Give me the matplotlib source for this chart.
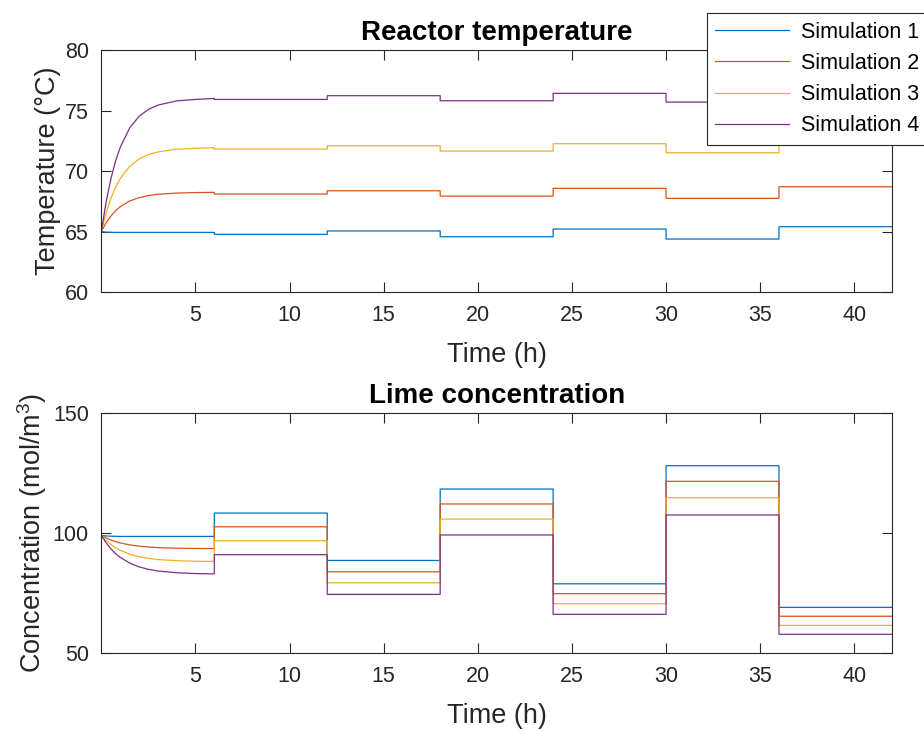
import numpy as np
import matplotlib
matplotlib.use("Agg")
import matplotlib.pyplot as plt

plt.rcParams['font.family'] = ['Liberation Sans', 'DejaVu Sans']
plt.rcParams['mathtext.default'] = 'regular'

# MATLAB default line colours
colors = ['#0072BD', '#D95319', '#EDB120', '#7E2F8E']
labels = ['Simulation 1', 'Simulation 2', 'Simulation 3', 'Simulation 4']

# start-up transient, first 6 hours
rise_t = [0, 0.25, 0.5, 0.75, 1, 1.5, 2, 2.5, 3, 4, 5, 6]
temp_rise = [
    [65.0, 64.95, 64.94, 64.93, 64.93, 64.93, 64.93, 64.93, 64.93, 64.93, 64.93, 64.93],
    [65.0, 65.72, 66.27, 66.71, 67.05, 67.52, 67.80, 67.97, 68.08, 68.18, 68.22, 68.24],
    [65.0, 66.53, 67.72, 68.66, 69.38, 70.38, 70.99, 71.36, 71.58, 71.81, 71.88, 71.93],
    [65.0, 67.43, 69.32, 70.81, 71.95, 73.55, 74.52, 75.10, 75.45, 75.80, 75.92, 76.00],
]
lime_rise = [
    [99.0, 98.8, 98.7, 98.65, 98.6, 98.6, 98.6, 98.6, 98.6, 98.6, 98.6, 98.6],
    [99.0, 97.97, 97.12, 96.44, 95.89, 95.08, 94.54, 94.19, 93.95, 93.70, 93.59, 93.54],
    [99.0, 96.95, 95.28, 93.93, 92.84, 91.23, 90.16, 89.46, 88.99, 88.49, 88.27, 88.18],
    [99.0, 95.97, 93.51, 91.51, 89.90, 87.52, 85.94, 84.91, 84.22, 83.48, 83.16, 83.01],
]

# piecewise constant levels after each 6 h step
step_t = [6, 12, 18, 24, 30, 36, 42]
temp_levels = [
    [64.77, 65.05, 64.57, 65.21, 64.38, 65.40],
    [68.10, 68.37, 67.93, 68.57, 67.74, 68.70],
    [71.82, 72.09, 71.65, 72.26, 71.51, 72.45],
    [75.92, 76.23, 75.81, 76.42, 75.70, 76.65],
]
lime_levels = [
    [108.3, 88.6, 118.3, 78.9, 128.0, 69.1],
    [102.6, 83.9, 112.1, 74.8, 121.5, 65.4],
    [96.8, 79.3, 105.8, 70.6, 114.7, 61.6],
    [91.0, 74.5, 99.2, 66.2, 107.5, 57.9],
]

x_ticks = [5, 10, 15, 20, 25, 30, 35, 40]
temp_ticks = [60, 65, 70, 75, 80]
lime_ticks = [50, 100, 150]


def series_path(rise_vals, levels):
    x = list(rise_t)
    y = list(rise_vals)
    for i, lv in enumerate(levels):
        x += [step_t[i], step_t[i + 1]]
        y += [lv, lv]
    return x, y


def style_axes(ax, yticks, title, ylabel):
    ax.set_xlim(0, 42)
    ax.set_ylim(yticks[0], yticks[-1])
    ax.set_xticks(x_ticks)
    ax.set_yticks(yticks)
    ax.tick_params(direction='in', length=7, width=0.8, colors='#262626',
                   labelsize=15.5, top=True, right=True, pad=9)
    for sp in ax.spines.values():
        sp.set_color('#262626')
        sp.set_linewidth(0.8)
    ax.set_title(title, fontsize=20, fontweight='bold', color='black', pad=7)
    ax.set_xlabel('Time (h)', fontsize=19.5, color='#262626', labelpad=12)
    ax.set_ylabel(ylabel, fontsize=19.5, color='#262626', labelpad=3)


fig = plt.figure(figsize=(9.24, 7.31), dpi=100)
ax1 = fig.add_axes([0.1097, 0.6005, 0.8556, 0.331])
ax2 = fig.add_axes([0.1097, 0.1063, 0.8556, 0.329])

for i in range(4):
    x, y = series_path(temp_rise[i], temp_levels[i])
    ax1.plot(x, y, color=colors[i], linewidth=0.9, label=labels[i])
    x, y = series_path(lime_rise[i], lime_levels[i])
    ax2.plot(x, y, color=colors[i], linewidth=0.9)

style_axes(ax1, temp_ticks, 'Reactor temperature', 'Temperature (°C)')
style_axes(ax2, lime_ticks, 'Lime concentration', 'Concentration (mol/m$^3$)')

leg = fig.legend(loc='upper left', bbox_to_anchor=(706.7 / 924, 1 - 13.3 / 731),
                 bbox_transform=fig.transFigure, fontsize=15.5, frameon=True,
                 fancybox=False, handlelength=3.4, labelspacing=0.47,
                 borderpad=0.4, handletextpad=0.6, borderaxespad=0)
leg.get_frame().set_edgecolor('#262626')
leg.get_frame().set_linewidth(0.8)
leg.get_frame().set_alpha(1)

fig.savefig('out.png', dpi=100)
